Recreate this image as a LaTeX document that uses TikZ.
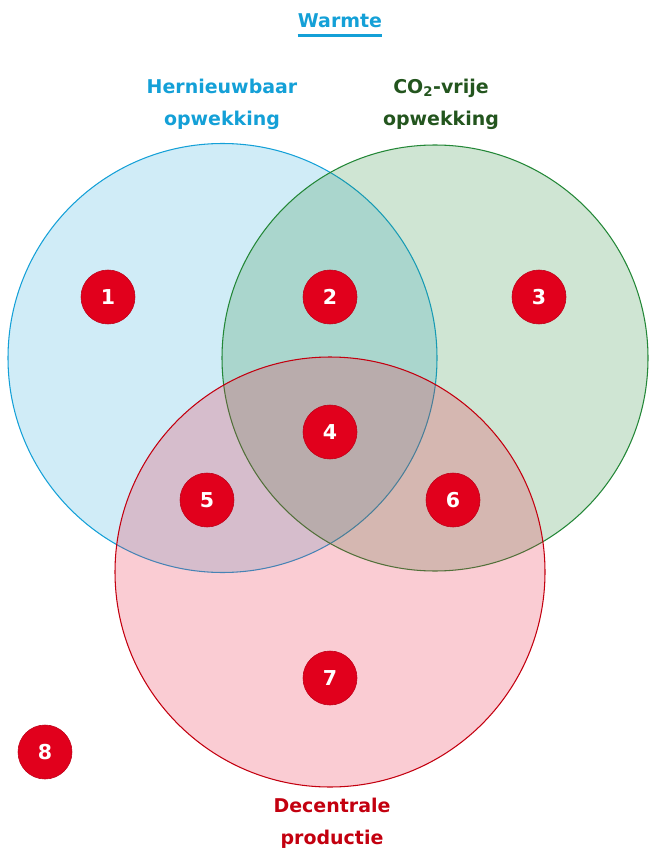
\documentclass[tikz,border=0pt]{standalone}
\usepackage{fontspec}
\setmainfont{DejaVu Sans}
\usepackage{xcolor}
\usetikzlibrary{calc}
\definecolor{hblue}{RGB}{20,160,215}
\definecolor{cgreen}{RGB}{35,135,55}
\definecolor{dgreen}{RGB}{35,85,30}
\definecolor{dred}{RGB}{195,0,15}
\definecolor{pinkfill}{RGB}{235,40,70}
\definecolor{badge}{RGB}{225,0,28}

\begin{document}
\begin{tikzpicture}[x=0.03cm,y=-0.03cm,
  nr/.style={circle,fill=badge,draw=badge!85!black,line width=0.5pt,minimum size=1.62cm,inner sep=0pt,
    text=white,font=\bfseries\fontsize{17.5}{17.5}\selectfont},
  lbl/.style={align=center,font=\bfseries\fontsize{16.2}{27.5}\selectfont}]
\useasboundingbox (0,0) rectangle (648,852);
% the three sets
\filldraw [fill=hblue, fill opacity=0.2, draw=hblue, line width=0.9pt] (222.5,358) circle (214.5);
\filldraw [fill=cgreen, fill opacity=0.22, draw=cgreen, line width=0.9pt] (435,358) circle (213);
\filldraw [fill=pinkfill, fill opacity=0.24, draw=dred, line width=0.9pt] (330,572) circle (215);

% titles
\node (warmte) [inner xsep=0pt, font=\bfseries\fontsize{16.2}{18}\selectfont, text=hblue] at (340,21) {Warmte};
\draw [hblue, line width=2.2pt] ([yshift=-3pt]warmte.south west) -- ([yshift=-3pt]warmte.south east);
\node (hern) [lbl, text=hblue] at (222,104) {Hernieuwbaar\\opwekking};
\node (covrij) [lbl, text=dgreen] at (441,104) {CO\textsubscript{2}-vrije\\opwekking};
\node (decent) [lbl, text=dred] at (332,823) {Decentrale\\productie};

% numbered regions
\node (n1) [nr] at (108,297) {1};
\node (n2) [nr] at (330,297) {2};
\node (n3) [nr] at (539,297) {3};
\node (n4) [nr] at (330,432) {4};
\node (n5) [nr] at (207,500) {5};
\node (n6) [nr] at (453,500) {6};
\node (n7) [nr] at (330,678) {7};
\node (n8) [nr] at (45,752) {8};
\end{tikzpicture}
\end{document}
